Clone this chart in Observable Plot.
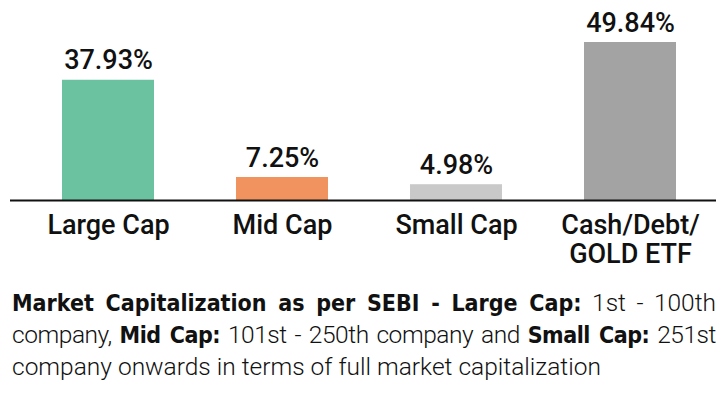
<!DOCTYPE html>
<html>
<head>
<meta charset="utf-8">
<script src="https://cdn.jsdelivr.net/npm/d3@7"></script>
<script src="https://cdn.jsdelivr.net/npm/@observablehq/plot@0.6"></script>
<style>
  html, body { margin: 0; padding: 0; background: #fff; }
  body { width: 728px; height: 394px; overflow: hidden; font-family: Roboto, sans-serif; }
  #chart svg { display: block; }
  #caption { position: absolute; left: 12px; top: 287px; width: 704px; font-size: 24.5px; line-height: 31px; color: #111; font-weight: 300; font-family: "Roboto", sans-serif; }
  #caption b { font-weight: 700; font-family: "DejaVu Sans Condensed", "Roboto Condensed", Roboto, sans-serif; font-size: 23px; }
  #caption .j { text-align: justify; text-align-last: justify; white-space: nowrap; }
  #caption .t { letter-spacing: -0.45px; }
</style>
</head>
<body>
<div id="chart"></div>
<div id="caption">
  <div class="j"><b>Market Capitalization as per SEBI - Large Cap:</b> 1st - 100th</div>
  <div class="j t">company, <b>Mid Cap:</b> 101st - 250th company and <b>Small Cap:</b> 251st</div>
  <div>company onwards in terms of full market capitalization</div>
</div>
<script>
const categories = ["Large Cap", "Mid Cap", "Small Cap", "Cash/Debt/GOLD ETF"];
const tickLabels = ["Large Cap", "Mid Cap", "Small Cap", "Cash/Debt/\nGOLD ETF"];
const values = [37.93, 7.25, 4.98, 49.84];
const valueLabels = ["37.93%", "7.25%", "4.98%", "49.84%"];
const colors = ["#6BC2A0", "#F0935E", "#C9C9C9", "#A3A3A3"];

const data = categories.map((c, i) => ({category: c, value: values[i], label: valueLabels[i], color: colors[i]}));

const chart = Plot.plot({
  width: 728,
  height: 280,
  marginTop: 42,
  marginBottom: 80,
  marginLeft: 10,
  marginRight: 12,
  style: {fontFamily: 'Roboto, sans-serif', fontSize: "27px", fontWeight: 500, color: "#111"},
  x: {domain: categories, paddingInner: 0.472, paddingOuter: 0.261, align: 0.56, label: null},
  y: {domain: [0, d3.max(values)], axis: null},
  marks: [
    Plot.barY(data, {x: "category", y: "value", fill: "color"}),
    Plot.text(data, {x: "category", y: "value", text: "label", lineAnchor: "bottom", dy: -11, fontSize: 27, fontWeight: 500, fill: "#111"}),
    Plot.ruleY([0], {stroke: "#111", strokeWidth: 2}),
    Plot.axisX({tickSize: 0, tickPadding: 12, fontSize: 27, fontWeight: 500, lineHeight: 1.1, lineAnchor: "top", tickFormat: (d) => tickLabels[categories.indexOf(d)], label: null})
  ]
});
document.getElementById("chart").appendChild(chart);
</script>
</body>
</html>
